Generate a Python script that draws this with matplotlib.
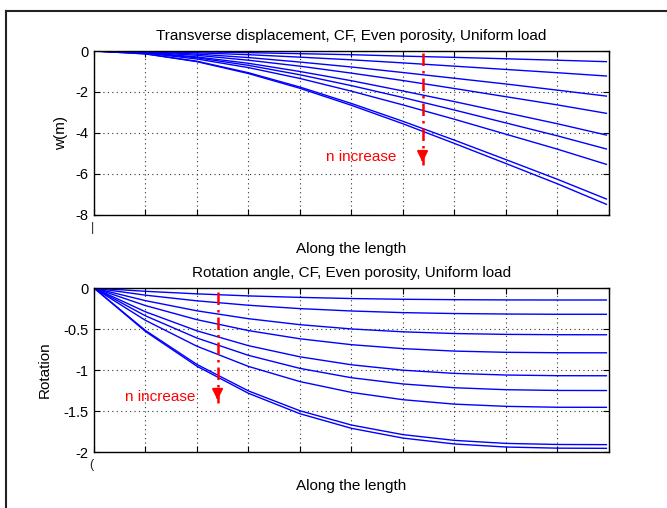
import matplotlib
matplotlib.use("Agg")
import matplotlib.pyplot as plt
from matplotlib.lines import Line2D

plt.rcParams["font.family"] = ["Liberation Sans", "DejaVu Sans"]

# positions along the beam (grid spacing of the axes)
x_pos = [0, 1, 2, 3, 4, 5, 6, 7, 8, 9, 9.95]

# transverse displacement w(m), one curve per porosity index n
w_n1 = [0, -0.01, -0.04, -0.08, -0.13, -0.18, -0.25, -0.31, -0.38, -0.45, -0.52]
w_n2 = [0, -0.02, -0.09, -0.18, -0.30, -0.43, -0.58, -0.74, -0.90, -1.06, -1.22]
w_n3 = [0, -0.04, -0.15, -0.32, -0.54, -0.78, -1.05, -1.33, -1.61, -1.91, -2.20]
w_n4 = [0, -0.06, -0.21, -0.45, -0.74, -1.08, -1.44, -1.83, -2.23, -2.63, -3.04]
w_n5 = [0, -0.08, -0.29, -0.60, -1.00, -1.45, -1.95, -2.47, -3.01, -3.55, -4.10]
w_n6 = [0, -0.09, -0.33, -0.70, -1.16, -1.69, -2.27, -2.88, -3.51, -4.14, -4.78]
w_n7 = [0, -0.10, -0.39, -0.81, -1.34, -1.96, -2.63, -3.33, -4.06, -4.79, -5.53]
w_n8 = [0, -0.14, -0.50, -1.06, -1.76, -2.56, -3.43, -4.35, -5.30, -6.26, -7.22]
w_n9 = [0, -0.14, -0.52, -1.10, -1.82, -2.65, -3.55, -4.51, -5.49, -6.48, -7.48]

# rotation angle
r_n1 = [0, -0.040, -0.071, -0.096, -0.114, -0.128, -0.137, -0.142, -0.145, -0.146, -0.146]
r_n2 = [0, -0.087, -0.156, -0.210, -0.251, -0.280, -0.300, -0.311, -0.317, -0.320, -0.320]
r_n3 = [0, -0.154, -0.278, -0.374, -0.447, -0.499, -0.534, -0.555, -0.565, -0.569, -0.570]
r_n4 = [0, -0.214, -0.386, -0.519, -0.619, -0.691, -0.739, -0.769, -0.784, -0.789, -0.790]
r_n5 = [0, -0.290, -0.522, -0.703, -0.839, -0.936, -1.002, -1.041, -1.061, -1.069, -1.070]
r_n6 = [0, -0.339, -0.610, -0.821, -0.980, -1.094, -1.170, -1.216, -1.240, -1.249, -1.250]
r_n7 = [0, -0.394, -0.710, -0.956, -1.141, -1.273, -1.362, -1.416, -1.443, -1.454, -1.455]
r_n8 = [0, -0.518, -0.932, -1.255, -1.497, -1.671, -1.788, -1.858, -1.895, -1.908, -1.910]
r_n9 = [0, -0.530, -0.954, -1.284, -1.533, -1.711, -1.830, -1.902, -1.939, -1.953, -1.955]

w_curves = [w_n1, w_n2, w_n3, w_n4, w_n5, w_n6, w_n7, w_n8, w_n9]
r_curves = [r_n1, r_n2, r_n3, r_n4, r_n5, r_n6, r_n7, r_n8, r_n9]

w_ticks = [0, -2, -4, -6, -8]
r_ticks = [0, -0.5, -1, -1.5, -2]
r_tick_labels = ["0", "-0.5", "-1", "-1.5", "-2"]

# "n increase" arrows: (x, y_start, y_end) and label position
w_arrow = (6.38, -0.11, -5.56)
w_note = (4.5, -5.15)
r_arrow = (2.4, -0.045, -1.40)
r_note = (0.6, -1.33)


def style_axis(axis, ticks, tick_labels, ylim, title, ylabel, ylabel_x):
    axis.set_xlim(0, 10)
    axis.set_ylim(*ylim)
    axis.set_xticks(range(0, 11))
    axis.set_xticklabels([])
    axis.set_yticks(ticks)
    axis.set_yticklabels(tick_labels, fontsize=10.5)
    axis.tick_params(direction="in", length=4, width=0.8, top=True, right=True, pad=4)
    axis.grid(True, color="#333333", linestyle=(0, (1, 3)), linewidth=0.8)
    for spine in axis.spines.values():
        spine.set_linewidth(1.0)
    axis.set_title(title, fontsize=11, pad=8)
    axis.set_xlabel("Along the length", fontsize=11)
    axis.xaxis.set_label_coords(0.5, -0.165)
    axis.set_ylabel(ylabel, fontsize=11)
    axis.yaxis.set_label_coords(ylabel_x, 0.5)


def draw_arrow(axis, arrow, note):
    x, y0, y1 = arrow
    axis.plot([x, x], [y0, y1], color="red", linestyle=(0, (5, 2, 1, 2)), linewidth=1.8, zorder=4)
    span = y0 - y1
    axis.annotate("", xy=(x, y1), xytext=(x, y1 + span * 0.08),
                  arrowprops=dict(arrowstyle="-|>", color="red", lw=1.5, mutation_scale=16),
                  zorder=5)
    axis.text(note[0], note[1], "n increase", color="red", fontsize=11, va="center", ha="left")


figure = plt.figure(figsize=(6.67, 5.08), dpi=100)
top = figure.add_axes([0.1409, 0.5768, 0.7721, 0.3228])
bottom = figure.add_axes([0.1409, 0.1102, 0.7721, 0.3228])

for values in w_curves:
    top.plot(x_pos, values, color="blue", linewidth=1.0)
for values in r_curves:
    bottom.plot(x_pos, values, color="blue", linewidth=1.0)

style_axis(top, w_ticks, [str(t) for t in w_ticks], (-8, 0),
           "Transverse displacement, CF, Even porosity, Uniform load", "w(m)", -0.05)
style_axis(bottom, r_ticks, r_tick_labels, (-2, 0),
           "Rotation angle, CF, Even porosity, Uniform load", "Rotation", -0.082)

draw_arrow(top, w_arrow, w_note)
draw_arrow(bottom, r_arrow, r_note)

# clipped x tick labels left under each axes
figure.text(92 / 667, 1 - 228 / 508, "|", fontsize=9, ha="center", va="center", color="#222222")
figure.text(91 / 667, 1 - 465 / 508, "(", fontsize=9, ha="center", va="center", color="#222222")

# frame of the original window (left and top edges)
figure.add_artist(Line2D([6 / 667, 6 / 667], [0, 1 - 11 / 508], color="#222222", linewidth=1.5))
figure.add_artist(Line2D([6 / 667, 1], [1 - 11 / 508, 1 - 11 / 508], color="#222222", linewidth=1.5))

figure.savefig("out.png", dpi=100)
